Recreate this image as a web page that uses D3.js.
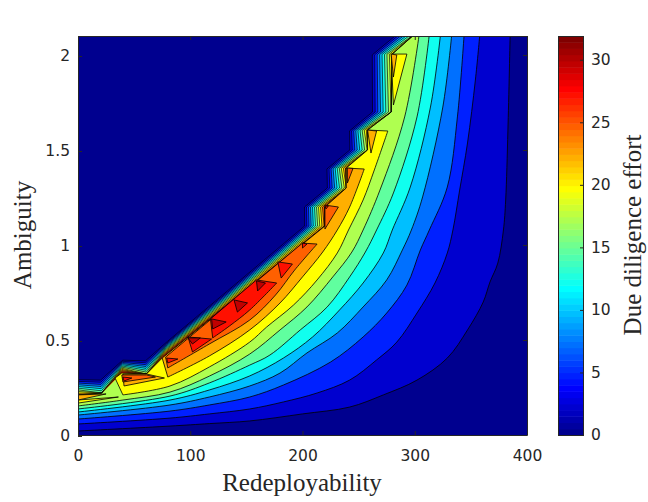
<!DOCTYPE html>
<html>
<head>
<meta charset="utf-8">
<script src="https://cdn.jsdelivr.net/npm/d3@7"></script>
<style>
  html, body { margin: 0; background: #fff; }
  svg { display: block; }
  .axis text { font-family: "DejaVu Sans", sans-serif; font-size: 15.5px; fill: #262626; }
  .axis path, .axis line { stroke: #262626; stroke-width: 1; }
  .label { font-family: "Liberation Serif", serif; font-size: 25px; fill: #262626; }
</style>
</head>
<body>
<div id="chart"></div>
<script>
// Plot constants
const WIDTH = 648;
const HEIGHT = 502;
const LEFT = 78, RIGHT = 527, TOP = 36, BOTTOM = 435;
const BAR_LEFT = 558, BAR_RIGHT = 583;

const xTicks = [0, 100, 200, 300, 400];
const yTicks = [0, 0.5, 1, 1.5, 2];
const barTicks = [0, 5, 10, 15, 20, 25, 30];
const effortMax = 31.9;
const levels = [2.5, 5, 7.5, 10, 12.5, 15, 17.5, 20, 22.5, 25, 27.5, 30];

// contour lines, [redeployability, ambiguity], left axis to top
const line2_5 = [[0,.021],[82,.047],[117,.06],[153,.074],[200,.111],[242,.147],[272,.211],[302,.289],[329,.405],[347,.553],[361,.7],[367,.805],[374,.905],[379,1.079],[381,1.237],[383,1.605],[385,2.11]];
const line5 = [[0,.058],[82,.089],[117,.111],[153,.137],[183,.174],[213,.221],[242,.289],[266,.395],[284,.489],[302,.642],[318,.8],[329,.958],[334,1.079],[340,1.289],[347,1.537],[354,1.868],[358,2.11]];
const line7_5 = [[0,.084],[82,.126],[117,.158],[153,.2],[183,.263],[225,.384],[254,.516],[275,.642],[293,.789],[305,.974],[313,1.079],[329,1.305],[338,1.674],[344,2.11]];
const line10 = [[0,.105],[82,.158],[117,.2],[153,.258],[180,.326],[204,.432],[231,.537],[254,.674],[275,.816],[289,.974],[297,1.079],[307,1.253],[325,1.726],[333,2.11]];
const line12_5 = [[0,.121],[82,.184],[117,.237],[153,.311],[183,.405],[209,.516],[233,.658],[254,.8],[272,.958],[280,1.079],[296,1.305],[314,1.726],[323,2.11]];
const line15 = [[0,.137],[82,.205],[117,.274],[153,.368],[171,.421],[198,.553],[222,.674],[242,.832],[256,.963],[266,1.079],[281,1.274],[302,1.674],[313,2.11]];
const line17_5 = [[0,.153],[40,.184],[82,.226],[117,.31],[153,.426],[180,.553],[204,.674],[227,.832],[244,.963],[254,1.079],[269,1.289],[291,1.674],[304,2.11]];
const line20 = [[40,.211],[82,.258],[117,.358],[153,.489],[168,.568],[192,.684],[213,.816],[231,.958],[241,1.079],[254,1.237],[264,1.395],[276,1.6]];
const line22_5 = [[80,.305],[117,.416],[153,.553],[180,.695],[200,.832],[218,.963],[231,1.079],[242,1.2],[255,1.4]];
const line25 = [[80,.353],[117,.479],[153,.605],[176,.737],[193,.868],[213,1.005]];
const line27_5 = [[120,.511],[135,.574],[153,.658],[177,.8]];

// the cliff: top edge of the drop to zero, its foot, and the effort reached at the foot
const ridgeEdge = [[282,2.11],[260,2],[260,1.7],[240,1.6],[240,1.5],[220,1.4],[220,1.3],[200,1.2],[200,1.1],[80,.5],[60,.4],[40,.4],[20,.3],[0,.3]];
const ridgeFoot = [[300,2.11],[280,2.005],[279,1.7],[258,1.605],[258,1.5],[239,1.405],[239,1.3],[220,1.2],[220,1.1],[75,.405],[61,.321],[39,.326],[21,.221],[0,.211]];
const ridgeFootEffort = [18, 23, 20, 24, 20.5, 26, 22, 28, 26, 30, 20, 30, 17.6, 25];

// closed islands above each level
const islands20 = [
  [[0,.184],[36,.2],[0,.168]],
  [[279,2.005],[293,2.005],[281,1.737]],
];
const islands22_5 = [
  [[0,.211],[25,.216],[0,.184]],
  [[40,.321],[61,.321],[77,.3],[41,.258]],
  [[258,1.605],[266,1.6],[261,1.484]],
  [[279,2.005],[284,2],[281,1.884]],
];
const islands25 = [
  [[39,.316],[61,.316],[69,.305],[40,.279]],
  [[220,1.21],[232,1.2],[220,1.084]],
  [[240,1.405],[245,1.403],[240,1.326]],
];
const islands27_5 = [
  [[40,.305],[48,.3],[41,.284]],
  [[79,.405],[89,.4],[80,.379]],
  [[98,.516],[119,.505],[102,.437]],
  [[178,.911],[191,.9],[181,.826]],
  [[200,1.01],[204,1.005],[200,.984]],
  [[220,1.205],[223,1.205],[221,1.19]],
];
const islands30 = [
  [[98,.511],[109,.511],[102,.479]],
  [[119,.611],[132,.595],[120,.558]],
  [[139,.711],[151,.695],[142,.647]],
  [[159,.811],[167,.8],[160,.758]],
];

const x = d3.scaleLinear().domain([0, 400]).range([LEFT, RIGHT]);
const y = d3.scaleLinear().domain([0, 2.1]).range([BOTTOM, TOP]);
const barY = d3.scaleLinear().domain([0, effortMax]).range([BOTTOM, TOP]);

// jet, 64 entries
const jet = d3.scaleLinear()
  .domain([0, 7, 23, 39, 55, 63])
  .range(["#00008f", "#0000ff", "#00ffff", "#ffff00", "#ff0000", "#800000"]);
const levelColor = (v) => jet(Math.floor((v / effortMax) * 63));

const svg = d3.select("#chart").append("svg").attr("width", WIDTH).attr("height", HEIGHT);

svg.append("clipPath").attr("id", "plot-clip").append("rect")
  .attr("x", LEFT).attr("y", TOP).attr("width", RIGHT - LEFT).attr("height", BOTTOM - TOP);

const plot = svg.append("g").attr("clip-path", "url(#plot-clip)");

plot.append("rect")
  .attr("x", LEFT).attr("y", TOP).attr("width", RIGHT - LEFT).attr("height", BOTTOM - TOP)
  .attr("fill", levelColor(0));

const smooth = d3.line().x((d) => x(d[0])).y((d) => y(d[1])).curve(d3.curveCatmullRom.alpha(0.5));
const straight = d3.line().x((d) => x(d[0])).y((d) => y(d[1]));

function fillShape(level, contour, rest, strokeWidth = 0.8) {
  // contour part is smoothed, the rest of the outline keeps its corners
  let d = contour ? smooth(contour) : "";
  if (rest && rest.length) {
    d += contour ? "L" + straight(rest).slice(1) : straight(rest);
  }
  plot.append("path")
    .attr("d", d + "Z")
    .attr("fill", levelColor(level))
    .attr("stroke", strokeWidth ? "#000" : "none")
    .attr("stroke-width", strokeWidth)
    .attr("stroke-linejoin", "miter");
}

function strokeOnly(d, width) {
  plot.append("path").attr("d", d).attr("fill", "none").attr("stroke", "#000").attr("stroke-width", width);
}

// where a level crosses the cliff, capped at the foot
function cliffLine(level) {
  return ridgeEdge.map((p, j) => {
    const t = Math.min(1, level / ridgeFootEffort[j]);
    return [p[0] + (ridgeFoot[j][0] - p[0]) * t, p[1] + (ridgeFoot[j][1] - p[1]) * t];
  });
}

// levels that reach the top of the plot run on up the cliff,
// the lines are packed tight there so they are drawn finer
const stacked = [line2_5, line5, line7_5, line10, line12_5, line15, line17_5];
stacked.forEach((contour, i) => {
  const cliff = cliffLine(levels[i]);
  fillShape(levels[i], contour, cliff, 0);
  strokeOnly(smooth(contour), 0.8);
  strokeOnly(straight(cliff), 0.65);
});

// higher levels only show on the cliff where the foot is above them
[20, 22.5, 25, 27.5].forEach((level) => {
  const cliff = cliffLine(level);
  fillShape(level, null, cliff.concat(ridgeFoot.slice().reverse()), 0);
  strokeOnly(straight(cliff), 0.65);
});

fillShape(20, line20, ridgeFoot.slice(3, 12).concat([[33, .3]]));
islands20.forEach((s) => fillShape(20, null, s));

fillShape(22.5, line22_5, ridgeFoot.slice(5, 10));
islands22_5.forEach((s) => fillShape(22.5, null, s));

fillShape(25, line25, [[200, 1.01], [78, .41]]);
islands25.forEach((s) => fillShape(25, null, s));

fillShape(27.5, line27_5, [[159, .816], [118, .611]]);
islands27_5.forEach((s) => fillShape(27.5, null, s));

islands30.forEach((s) => fillShape(30, null, s));

// Axes, ticks point inward on all four sides
function styleAxis(g) {
  g.attr("class", "axis");
  g.selectAll("path").attr("fill", "none");
}

svg.append("g").attr("transform", `translate(0,${BOTTOM})`)
  .call(d3.axisBottom(x).tickValues(xTicks).tickFormat(String).tickSizeInner(-4).tickSizeOuter(0).tickPadding(15))
  .call(styleAxis);
svg.append("g").attr("transform", `translate(${LEFT},1)`)
  .call(d3.axisLeft(y).tickValues(yTicks).tickFormat(String).tickSizeInner(-4).tickSizeOuter(0).tickPadding(8))
  .call(styleAxis);
svg.append("g").attr("transform", `translate(0,${TOP})`)
  .call(d3.axisTop(x).tickValues(xTicks).tickFormat("").tickSizeInner(-4).tickSizeOuter(0))
  .call(styleAxis);
svg.append("g").attr("transform", `translate(${RIGHT},0)`)
  .call(d3.axisRight(y).tickValues(yTicks).tickFormat("").tickSizeInner(-4).tickSizeOuter(0))
  .call(styleAxis);

// Colorbar
const barSteps = d3.scaleBand().domain(d3.range(64)).range([BOTTOM, TOP]);
svg.append("g").selectAll("rect").data(d3.range(64)).join("rect")
  .attr("x", BAR_LEFT)
  .attr("y", (d) => barSteps(d))
  .attr("width", BAR_RIGHT - BAR_LEFT)
  .attr("height", barSteps.bandwidth() + 0.5)
  .attr("fill", (d) => jet(d));

svg.append("g").attr("transform", `translate(${BAR_RIGHT},0)`)
  .call(d3.axisRight(barY).tickValues(barTicks).tickFormat(String).tickSizeInner(-3).tickSizeOuter(0).tickPadding(8))
  .call(styleAxis);
svg.append("rect").attr("class", "axis")
  .attr("x", BAR_LEFT + 0.5).attr("y", TOP + 0.5)
  .attr("width", BAR_RIGHT - BAR_LEFT).attr("height", BOTTOM - TOP)
  .attr("fill", "none").attr("stroke", "#262626");

// Labels
svg.append("text").attr("class", "label")
  .attr("x", 302).attr("y", 491).attr("text-anchor", "middle")
  .text("Redeployability");
svg.append("text").attr("class", "label")
  .attr("transform", "translate(31,235) rotate(-90)").attr("text-anchor", "middle")
  .text("Ambiguity");
svg.append("text").attr("class", "label")
  .attr("transform", "translate(641,235) rotate(-90)").attr("text-anchor", "middle")
  .text("Due diligence effort");
</script>
</body>
</html>
